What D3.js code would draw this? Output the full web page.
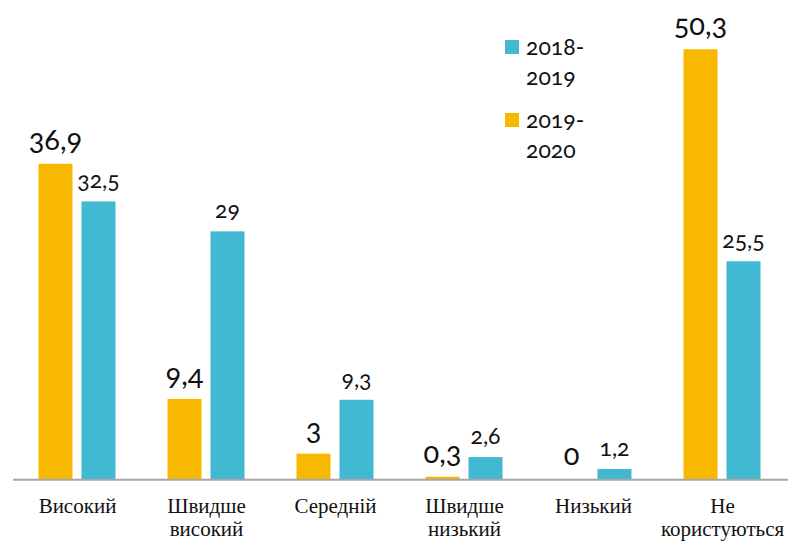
<!DOCTYPE html>
<html><head><meta charset="utf-8">
<script src="https://cdn.jsdelivr.net/npm/d3@7"></script>
<style>
body{margin:0;background:#fff;}
svg{display:block;}
.num{font-family:Lato,"Open Sans",sans-serif;font-variant-numeric:oldstyle-nums;font-feature-settings:"onum" 1;fill:#111;}
.cat{font-family:"Liberation Serif","DejaVu Serif",serif;fill:#111;}
</style></head><body>
<svg id="c" width="788" height="542"></svg>
<script>
const categories = [["Високий"],["Швидше","високий"],["Середній"],["Швидше","низький"],["Низький"],["Не","користуються"]];
const series1920 = [36.9, 9.4, 3, 0.3, 0, 50.3];
const series1819 = [32.5, 29, 9.3, 2.6, 1.2, 25.5];
const seriesNames = ["2018-2019", "2019-2020"];
const colors = {"2019-2020":"#F9B800","2018-2019":"#41B9D3"};

const svg = d3.select("#c");
const x0 = d3.scaleBand().domain(d3.range(categories.length)).range([13,787]).paddingInner(0).paddingOuter(0);
const x1 = d3.scaleBand().domain(["2019-2020","2018-2019"]).range([25.5,102.5]).paddingInner(9/43);
const y = d3.scaleLinear().domain([0,55]).range([479.3, 479.3-8.55*55]);

const fmt = v => String(v).replace(".", ",");
const data = categories.map((c,i)=>({i, vals:[{k:"2019-2020",v:series1920[i]},{k:"2018-2019",v:series1819[i]}]}));

const g = svg.selectAll("g.grp").data(data).join("g").attr("class","grp")
  .attr("transform", d=>`translate(${x0(d.i)},0)`);
g.selectAll("rect").data(d=>d.vals).join("rect")
  .attr("x", d=>x1(d.k)).attr("width", x1.bandwidth())
  .attr("y", d=>y(d.v)).attr("height", d=>y(0)-y(d.v))
  .attr("fill", d=>colors[d.k]);
g.selectAll("text.num").data(d=>d.vals).join("text").attr("class","num")
  .attr("x", d=>x1(d.k)+x1.bandwidth()/2)
  .attr("y", d=>y(d.v) - (d.k==="2019-2020"?14:13))
  .attr("text-anchor","middle")
  .attr("font-size", d=>d.k==="2019-2020"?29:23)
  .text(d=>fmt(d.v));

// axis baseline
svg.append("line").attr("x1",13).attr("x2",788).attr("y1",y(0)+0.5).attr("y2",y(0)+0.5)
  .attr("stroke","#a6a6a6").attr("stroke-width",2);

// category labels
const cl = svg.selectAll("text.cat").data(categories).join("text").attr("class","cat")
  .attr("text-anchor","middle").attr("font-size",21)
  .attr("x",(d,i)=>x0(i)+x0.bandwidth()/2).attr("y",513);
cl.selectAll("tspan").data(d=>d).join("tspan")
  .attr("x",function(){return this.parentNode.getAttribute("x");})
  .attr("dy",(d,i)=>i===0?0:23).text(d=>d);

// legend
const legend = [{k:"2018-2019", lines:["2018-","2019"]},{k:"2019-2020", lines:["2019-","2020"]}];
const lg = svg.selectAll("g.leg").data(legend).join("g").attr("class","leg")
  .attr("transform",(d,i)=>`translate(505,${40+i*73})`);
lg.append("rect").attr("width",14).attr("height",14).attr("fill",d=>colors[d.k]);
lg.append("text").attr("class","num").attr("font-size",23).attr("x",21).attr("y",15)
  .selectAll("tspan").data(d=>d.lines).join("tspan").attr("x",21).attr("dy",(d,i)=>i===0?0:30).text(d=>d);
</script></body></html>
